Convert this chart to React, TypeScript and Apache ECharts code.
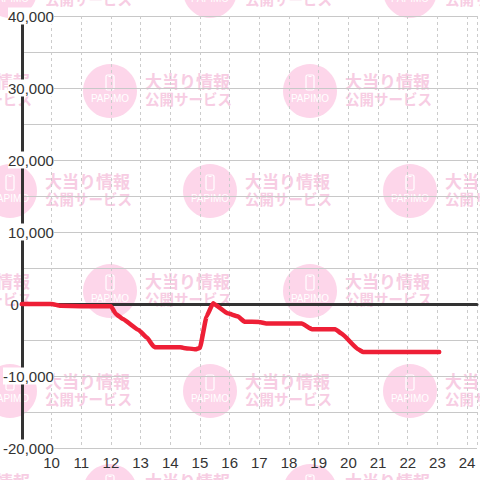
import React, { useEffect, useRef } from "react";
import * as echarts from "echarts";

// Data
const hours: number[] = [9, 10, 10.3, 11, 12, 12.17, 12.4, 12.93, 13.22, 13.44, 13.5, 14.33, 14.45, 14.85, 15.0, 15.22, 15.44, 15.93, 16.27, 16.5, 17.0, 17.23, 18.43, 18.77, 19.56, 19.77, 20.33, 20.5, 23.06];
const balance: number[] = [0, 0, -250, -300, -300, -1400, -2100, -3600, -4700, -5900, -6000, -6000, -6100, -6300, -6100, -1750, 100, -1300, -1700, -2450, -2500, -2700, -2700, -3500, -3500, -4100, -6300, -6670, -6670];
const xTickLabels: number[] = [10, 11, 12, 13, 14, 15, 16, 17, 18, 19, 20, 21, 22, 23, 24];
const yTickLabels: number[] = [-20000, -10000, 0, 10000, 20000, 30000, 40000];

const fmt = (v: number) => {
  const s = String(Math.abs(v)).replace(/\B(?=(\d{3})+(?!\d))/g, ",");
  return (v < 0 ? "-" : "") + s;
};

function buildWatermark() {
  const els: any[] = [];
  for (let r = 0; r < 6; r++) {
    const cy = -9 + 100 * r;
    const xs = r % 2 === 0 ? [10, 210, 410] : [-90, 110, 310];
    for (const cx of xs) {
      els.push({ type: "circle", z: -10, silent: true, shape: { cx, cy, r: 27 }, style: { fill: "#fdd6ea" } });
      els.push({ type: "rect", z: -9, silent: true, shape: { x: cx - 4, y: cy - 16, width: 8, height: 15, r: 1.5 }, style: { fill: "none", stroke: "#ffffff", lineWidth: 1.2 } });
      els.push({ type: "line", z: -9, silent: true, shape: { x1: cx - 1.5, y1: cy - 14.5, x2: cx + 1.5, y2: cy - 14.5 }, style: { stroke: "#ffffff", lineWidth: 1 } });
      els.push({ type: "text", z: -9, silent: true, x: cx, y: cy + 7, style: { text: "PAPIMO", fill: "#ffffff", fontSize: 10, fontFamily: "Liberation Sans", align: "center", verticalAlign: "middle" } });
      els.push({ type: "text", z: -9, silent: true, x: cx + 35, y: cy - 11, style: { text: "大当り情報", fill: "#f7cde3", fontSize: 17, fontWeight: "bold", fontFamily: "Noto Sans CJK JP", align: "left", verticalAlign: "middle" } });
      els.push({ type: "text", z: -9, silent: true, x: cx + 35, y: cy + 7, style: { text: "公開サービス", fill: "#f7cde3", fontSize: 14.5, fontWeight: "bold", fontFamily: "Noto Sans CJK JP", align: "left", verticalAlign: "middle" } });
    }
  }
  return els;
}

export default function App() {
  const ref = useRef<HTMLDivElement>(null);
  useEffect(() => {
    if (!ref.current) return;
    const chart = echarts.init(ref.current, undefined, { renderer: "svg" });
    const data = hours.map((h, i) => [h, balance[i]]);
    const xMin = 9;
    const xMax = 24 + 1 / 3;
    chart.setOption({
      animation: false,
      backgroundColor: "#ffffff",
      textStyle: { fontFamily: "Liberation Sans" },
      graphic: { elements: buildWatermark() },
      grid: { left: 20, right: 0, top: 16, bottom: 32, containLabel: false },
      xAxis: [
        {
          type: "value",
          min: xMin,
          max: xMax,
          interval: 1,
          axisLine: { show: false },
          axisTick: { show: false },
          axisLabel: {
            margin: 7,
            fontSize: 15,
            color: "#333",
            formatter: (v: number) => (xTickLabels.includes(v) ? String(v) : ""),
          },
          splitLine: { show: true, lineStyle: { color: "#cccccc", width: 1, type: [3, 3] } },
        },
        {
          type: "value",
          min: xMin,
          max: xMax,
          interval: 1,
          axisLine: { show: true, onZero: true, lineStyle: { color: "#333", width: 3 } },
          axisTick: { show: false },
          axisLabel: { show: false },
          splitLine: { show: false },
        },
      ],
      yAxis: [
        {
          type: "value",
          position: "right",
          min: -20000,
          max: 40000,
          interval: 5000,
          axisLine: { show: false },
          axisTick: { show: false },
          axisLabel: { show: false },
          splitLine: { show: true, lineStyle: { color: "#c8c8c8", width: 1 } },
        },
        {
          type: "value",
          position: "left",
          z: 1,
          min: -20000,
          max: 40000,
          interval: 10000,
          axisLine: { show: true, onZero: false, lineStyle: { color: "#333", width: 3 } },
          axisTick: { show: false },
          splitLine: { show: false },
          axisLabel: {
            inside: true,
            margin: 32,
            align: "right",
            formatter: (v: number) => {
              if (!yTickLabels.includes(v)) return "";
              return v === 0 ? "{z|0}" : "{a|" + fmt(v) + "}";
            },
            rich: {
              a: { backgroundColor: "#ffffff", fontSize: 15, color: "#333", padding: [1, 0, 1, 0], fontFamily: "Liberation Sans" },
              z: { fontSize: 15, color: "#333", padding: [0, 35, 0, 0], fontFamily: "Liberation Sans" },
            },
          },
        },
      ],
      series: [
        {
          type: "line",
          xAxisIndex: 0,
          yAxisIndex: 0,
          data,
          showSymbol: false,
          symbol: "none",
          smooth: 0.1,
          smoothMonotone: "x",
          lineStyle: { color: "#ee1f36", width: 4.5, cap: "round", join: "round" },
          z: 3,
        },
      ],
    });
    return () => chart.dispose();
  }, []);
  return <div ref={ref} style={{ position: "fixed", left: 0, top: 0, width: 480, height: 480 }} />;
}
